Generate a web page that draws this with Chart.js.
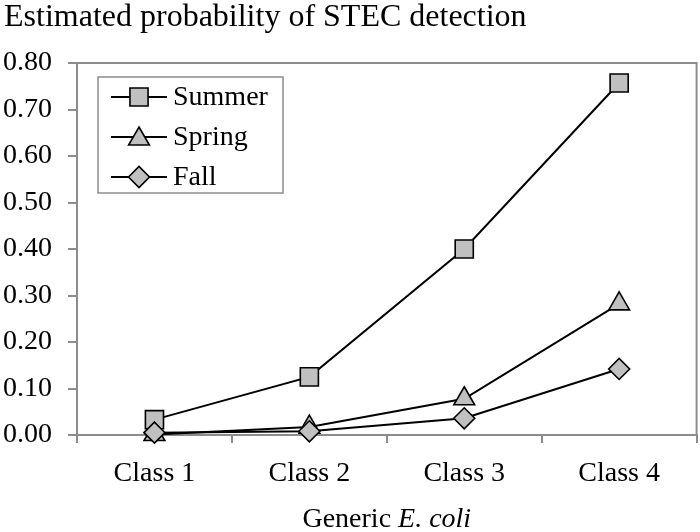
<!DOCTYPE html>
<html><head><meta charset="utf-8">
<script src="https://cdn.jsdelivr.net/npm/chart.js@4"></script>
<style>html,body{margin:0;padding:0;background:#fff;overflow:hidden;width:700px;height:532px}#wrap{width:711px;height:532px;position:relative}</style>
</head><body><div id="wrap"><canvas id="c" width="711" height="532"></canvas></div>
<script>
const categories = ['Class 1', 'Class 2', 'Class 3', 'Class 4'];
const seriesNames = ['Summer', 'Spring', 'Fall'];
const summer = [0.033, 0.125, 0.400, 0.757];
const spring = [0.001, 0.017, 0.078, 0.282];
const fall = [0.005, 0.008, 0.036, 0.142];
const titleText = 'Estimated probability of STEC detection';
const xTitleParts = ['Generic ', 'E. coli'];

const FONT = '"Liberation Serif", "Times New Roman", serif';
const GRAY = '#8c8c8c';
const FILL = '#c0c0c0';

const styles = [
  {pointStyle: 'rect', radius: 12.8, order: 3},
  {pointStyle: 'triangle', radius: 12, order: 2},
  {pointStyle: 'rectRot', radius: 10.5, order: 1}
];
const seriesData = [summer, spring, fall];

const datasets = seriesNames.map((n, i) => ({
  label: n,
  data: seriesData[i],
  borderColor: '#000',
  borderWidth: 2,
  pointStyle: styles[i].pointStyle,
  pointRadius: styles[i].radius,
  pointHoverRadius: styles[i].radius,
  pointBackgroundColor: FILL,
  pointBorderColor: '#000',
  pointBorderWidth: 1.6,
  tension: 0,
  clip: false,
  order: styles[i].order
}));

function drawMarker(ctx, style, x, y, r) {
  ctx.beginPath();
  if (style === 'rect') {
    const s = Math.SQRT1_2 * r;
    ctx.rect(x - s, y - s, 2 * s, 2 * s);
  } else if (style === 'triangle') {
    const a = r * Math.sin(Math.PI / 3);
    ctx.moveTo(x, y - r);
    ctx.lineTo(x + a, y + r / 2);
    ctx.lineTo(x - a, y + r / 2);
    ctx.closePath();
  } else {
    ctx.moveTo(x - r, y); ctx.lineTo(x, y - r); ctx.lineTo(x + r, y); ctx.lineTo(x, y + r);
    ctx.closePath();
  }
  ctx.fillStyle = FILL; ctx.fill();
  ctx.lineWidth = 1.6; ctx.strokeStyle = '#000'; ctx.stroke();
}

const decor = {
  id: 'decor',
  beforeDatasetsDraw(chart) {
    const ctx = chart.ctx, a = chart.chartArea;
    ctx.save();
    ctx.strokeStyle = GRAY; ctx.lineWidth = 2;
    ctx.strokeRect(a.left, a.top, a.right - a.left, a.bottom - a.top);
    ctx.restore();
  },
  afterDraw(chart) {
    const ctx = chart.ctx, a = chart.chartArea;
    ctx.save();
    ctx.fillStyle = '#000';
    ctx.textBaseline = 'alphabetic';
    ctx.textAlign = 'left';
    ctx.font = '32px ' + FONT;
    ctx.fillText(titleText, 4, 26);
    // x axis title
    ctx.font = '28px ' + FONT;
    const w1 = ctx.measureText(xTitleParts[0]).width;
    ctx.font = 'italic 28px ' + FONT;
    const w2 = ctx.measureText(xTitleParts[1]).width;
    const cx = (a.left + a.right) / 2;
    let x0 = cx - (w1 + w2) / 2;
    ctx.font = '28px ' + FONT;
    ctx.fillText(xTitleParts[0], x0, 527);
    ctx.font = 'italic 28px ' + FONT;
    ctx.fillText(xTitleParts[1], x0 + w1, 527);
    // legend
    ctx.strokeStyle = GRAY; ctx.lineWidth = 1.5;
    ctx.fillStyle = '#fff';
    ctx.fillRect(98, 77, 185, 116);
    ctx.strokeRect(98, 77, 185, 116);
    const ys = [97, 137, 177];
    seriesNames.forEach((n, i) => {
      const y = ys[i];
      ctx.beginPath(); ctx.moveTo(111, y); ctx.lineTo(167, y);
      ctx.strokeStyle = '#000'; ctx.lineWidth = 2; ctx.stroke();
      drawMarker(ctx, styles[i].pointStyle, 139, y + (styles[i].pointStyle === 'triangle' ? 2 : 0), styles[i].radius);
      ctx.fillStyle = '#000';
      ctx.font = '28px ' + FONT;
      ctx.textBaseline = 'middle';
      ctx.fillText(n, 173, y + 1);
    });
    ctx.restore();
  }
};

new Chart(document.getElementById('c'), {
  type: 'line',
  data: {labels: categories, datasets},
  plugins: [decor],
  options: {
    responsive: false,
    animation: false,
    devicePixelRatio: 1,
    layout: {padding: {top: 63, right: 3, left: 0, bottom: 0}},
    plugins: {legend: {display: false}, title: {display: false}, tooltip: {enabled: false}},
    scales: {
      x: {
        type: 'category',
        offset: true,
        grid: {offset: true, drawOnChartArea: false, drawTicks: true, tickLength: 8, color: GRAY, lineWidth: 2},
        border: {color: GRAY, width: 2},
        ticks: {font: {family: FONT, size: 28}, color: '#000', padding: 14, maxRotation: 0},
        afterFit(s) { s.height = 97; }
      },
      y: {
        min: 0, max: 0.8,
        grid: {drawOnChartArea: false, drawTicks: true, tickLength: 9, color: GRAY, lineWidth: 2},
        border: {color: GRAY, width: 2},
        ticks: {stepSize: 0.1, font: {family: FONT, size: 28}, color: '#000', padding: 16,
          callback: v => v.toFixed(2)},
        afterFit(s) { s.width = 77; }
      }
    }
  }
});
</script></body></html>
